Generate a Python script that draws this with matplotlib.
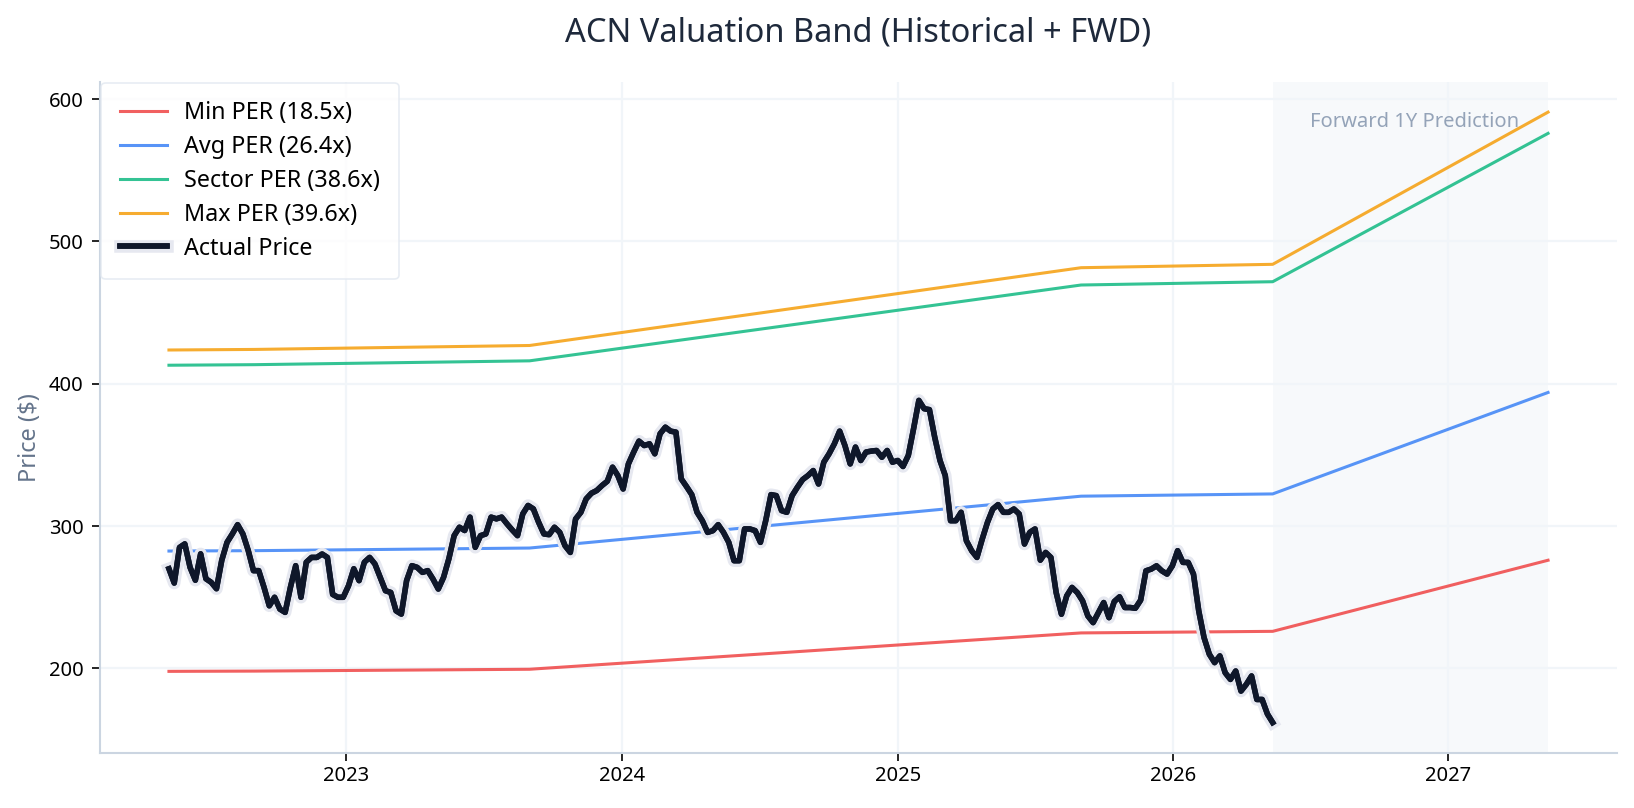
import numpy as np
import pandas as pd
import matplotlib
matplotlib.use("Agg")
import matplotlib.pyplot as plt
import matplotlib.dates as mdates
import matplotlib.patheffects as pe

plt.rcParams['font.family'] = ['Noto Sans', 'DejaVu Sans']

#%% data
# weekly closes, starting 2022-05-11
price_start = '2022-05-11'
price = [270, 260, 285, 287.5, 271, 262, 280.5, 263, 260.5, 256,
         276, 288.6, 294.5, 301, 294.5, 283, 268.7, 268.7, 257, 244,
         250, 241.7, 239.4, 257, 272.2, 250, 274.6, 278, 278, 280.4,
         278, 252, 250, 250, 258.1, 270, 261.7, 274.6, 278, 273.4,
         264, 254.6, 253.4, 240.5, 238.2, 261.7, 272.2, 271, 267.5, 268.7,
         262.8, 255.8, 264, 277, 293.3, 299.2, 296.9, 306.3, 285.1, 293.3,
         294.5, 306.3, 305.1, 306.3, 301.6, 297.3, 293.3, 308.6, 314.5, 312.1,
         302.7, 294.5, 294, 299.2,
         295.6, 286.2, 281.5, 305, 309.7, 319.1,
         323.1, 325, 328.5, 331.5, 341.4, 335.5, 326.1, 343.7, 352, 359.7,
         356.6, 357.8, 350.8, 364.9, 369.5, 366.7, 366, 333.2, 327.8, 322.1,
         309.7, 303.8, 295.6, 296.8, 301, 295.6, 288.6, 275.7, 275.7, 298,
         298, 296.8, 288.6, 303.8, 322.1, 321.4, 310.9, 309.7, 321.4, 327.3,
         332.7, 335.5, 339, 329.6, 344.9, 350.8, 357.8, 366.7, 356.6, 343.7,
         355.5, 346.1, 352, 352.7, 353.1, 348.4, 353.1, 344.9, 346.1, 341.9,
         349.6, 368.4, 388.3, 382.5, 381.8, 362.5, 346.1, 335.5, 303.8,
         303.8, 309.7, 289.7, 282.7, 278, 290.9, 302.7, 312, 315.1, 309.7, 309.7,
         312, 308.5, 287.4, 295.6, 298, 276.1, 281.5, 278, 253.3, 238.1,
         251, 256.9, 253.3, 247.5, 236.9, 232.2, 239.3, 246.3, 235.7, 247,
         250.3, 242.8, 242.8, 242.3, 248, 268.6, 269.8, 272.1, 268.6, 266.3,
         272.1, 282.7, 274.5, 274.5, 266.3, 240.4, 221.7, 210, 204.1, 208.8,
         197, 192.3, 198.2, 184.1, 188.8, 194.7, 178.2, 178.2, 168, 162]

# EPS path (trailing + forward) used for the bands
eps_dates = ['2022-05-11', '2022-09-01', '2023-09-01', '2024-09-01',
             '2025-09-01', '2026-05-13', '2027-05-13']
eps = [10.70, 10.71, 10.78, 11.47, 12.16, 12.22, 14.92]

band_names = ['Min PER', 'Avg PER', 'Sector PER', 'Max PER']
band_per = [18.5, 26.4, 38.6, 39.6]
band_colors = ['#ef4444', '#3b82f6', '#10b981', '#f59e0b']

#%%
price_dates = pd.date_range(price_start, periods=len(price), freq='7D')
eps_dates = pd.to_datetime(eps_dates)
eps = np.array(eps)

fig = plt.figure(figsize=(16.34, 8.08), dpi=100)
ax = fig.add_axes([0.0612, 0.068, 0.9284, 0.831])

today = price_dates[-1]
ax.axvspan(today, eps_dates[-1], color='#f1f5f9', alpha=0.5, lw=0, zorder=0)

for name, per, col in zip(band_names, band_per, band_colors):
    ax.plot(eps_dates, per * eps, color=col, alpha=0.85, lw=2.2,
            label=f'{name} ({per}x)', zorder=2)

ax.plot(price_dates, price, color='#0f172a', lw=4, label='Actual Price', zorder=3,
        path_effects=[pe.withStroke(linewidth=9, foreground='#e6e8f0'), pe.Normal()])

mid = today + (eps_dates[-1] - today) / 2 + pd.Timedelta(days=6)
ax.text(mid, 584, 'Forward 1Y Prediction', ha='center', va='center',
        color='#94a3b8', fontsize=14.5)

ax.set_title('ACN Valuation Band (Historical + FWD)', fontsize=23.5, color='#1e293b', pad=29)
ax.set_ylabel('Price ($)', fontsize=17, color='#64748b')
ax.yaxis.set_label_coords(-0.038, 0.47)

ax.xaxis.set_major_locator(mdates.YearLocator())
ax.xaxis.set_major_formatter(mdates.DateFormatter('%Y'))
ax.tick_params(labelsize=14.5, length=6, width=1.2, colors='black')
ax.tick_params(axis='y', pad=6)

ax.grid(True, color='#f1f5f9', lw=1.6)
ax.set_axisbelow(True)
for s in ['top', 'right']:
    ax.spines[s].set_visible(False)
for s in ['left', 'bottom']:
    ax.spines[s].set_color('#cbd5e1')
    ax.spines[s].set_linewidth(1.5)

leg = ax.legend(loc='upper left', fontsize=16.8, handlelength=2.0, handletextpad=0.75,
                frameon=True, fancybox=True, borderpad=0.8, labelspacing=0.42,
                borderaxespad=0.05)
leg.get_frame().set_edgecolor('#e2e8f0')
leg.get_frame().set_linewidth(1.2)

fig.savefig('out.png', dpi=100)
